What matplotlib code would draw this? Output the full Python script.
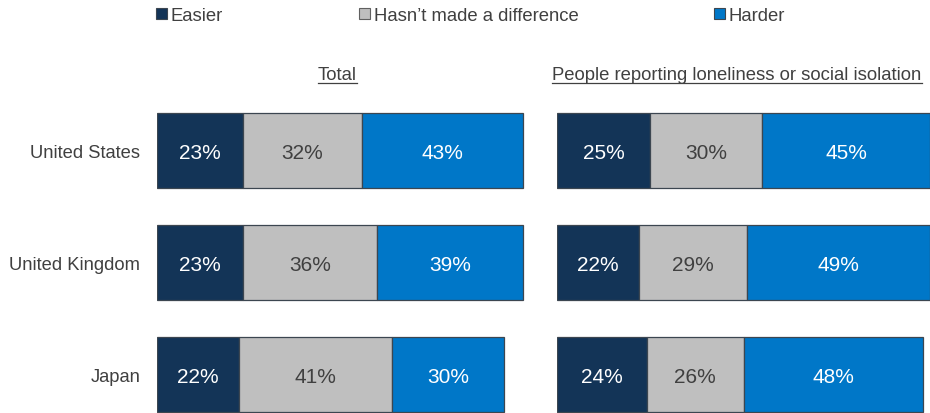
import numpy as np
import matplotlib
matplotlib.use("Agg")
import matplotlib.pyplot as plt
from matplotlib.patches import Patch
from matplotlib.lines import Line2D

plt.rcParams['font.family'] = ['Liberation Sans', 'DejaVu Sans']

countries = ["United States", "United Kingdom", "Japan"]
series = ["Easier", "Hasn\u2019t made a difference", "Harder"]
total = {
    "Easier": [23, 23, 22],
    "Hasn\u2019t made a difference": [32, 36, 41],
    "Harder": [43, 39, 30],
}
lonely = {
    "Easier": [25, 22, 24],
    "Hasn\u2019t made a difference": [30, 29, 26],
    "Harder": [45, 49, 48],
}
panel_titles = ["Total", "People reporting loneliness or social isolation"]

colors = ["#133457", "#bfbfbf", "#0077c8"]
text_colors = ["white", "#404040", "white"]
edge = "#3c4650"

W, H = 930, 414
fig = plt.figure(figsize=(W / 100, H / 100), dpi=100)

# axes placement in pixels (x0, width); y shared
scale = 3.73
ax_top = 151.8 - 56
ax_h = 336
axes = []
for x0 in (157, 557):
    ax = fig.add_axes([x0 / W, 1 - (ax_top + ax_h) / H, 100 * scale / W, ax_h / H])
    axes.append(ax)

y = np.arange(len(countries))
for ax, data in zip(axes, [total, lonely]):
    left = np.zeros(len(countries))
    for s, c, tc in zip(series, colors, text_colors):
        vals = np.array(data[s])
        ax.barh(y, vals, left=left, height=0.67, color=c, edgecolor=edge, linewidth=0.9)
        for yi, l, v in zip(y, left, vals):
            ax.text(l + v / 2, yi + 0.015, f"{v}%", ha="center", va="center",
                    color=tc, fontsize=15)
        left += vals
    ax.set_xlim(0, 100)
    ax.set_ylim(2.5, -0.5)
    for sp in ax.spines.values():
        sp.set_visible(False)
    ax.set_xticks([])
    ax.set_yticks([])

axes[0].set_yticks(y)
axes[0].set_yticklabels(countries, fontsize=13.2, color="#404040")
axes[0].tick_params(axis="y", length=0, pad=12)

# underlined panel titles
title_x = [337, 737]
titles = []
for tx, t in zip(title_x, panel_titles):
    titles.append(fig.text(tx / W, 1 - 75 / H, t, ha="center", va="center",
                           fontsize=13.3, color="#404040"))

# legend
handles = [Patch(facecolor=c, edgecolor=edge if i != 1 else "#606060", linewidth=0.8)
           for i, c in enumerate(colors)]
fig.legend(handles, series, loc="upper left", bbox_to_anchor=(156 / W, 1 - 8 / H),
           ncol=3, frameon=False, fontsize=13.3, handlelength=0.58, handleheight=0.58,
           handletextpad=0.22, columnspacing=7.35, borderpad=0, borderaxespad=0,
           labelcolor="#404040")

fig.canvas.draw()
r = fig.canvas.get_renderer()
for t in titles:
    bb = t.get_window_extent(r)
    yl = (bb.y0 - 0.5) / H
    fig.add_artist(Line2D([bb.x0 / W, bb.x1 / W], [yl, yl], color="#404040", linewidth=0.9))

fig.savefig("out.png", dpi=100)
